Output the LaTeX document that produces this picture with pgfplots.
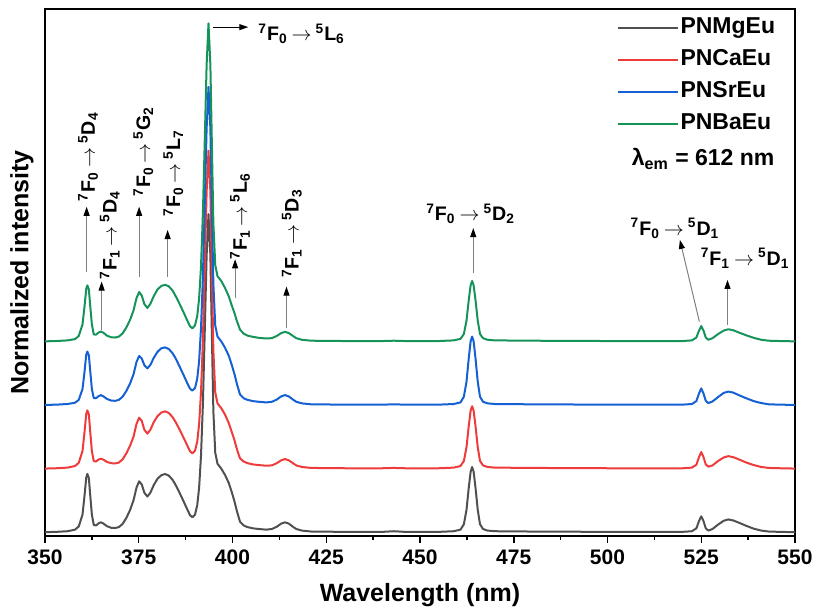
\documentclass[border=0pt]{standalone}
\usepackage{fontspec}
\setmainfont{Liberation Sans}
\usepackage{pgfplots}
\usepackage{pgfplotstable}
\pgfplotsset{compat=1.18}
\usetikzlibrary{arrows.meta}
\definecolor{cmg}{HTML}{505050}
\definecolor{cca}{HTML}{EE3B3B}
\definecolor{csr}{HTML}{1560D2}
\definecolor{cba}{HTML}{16935B}
\newcommand{\tr}[3]{\textsuperscript{7}F\textsubscript{#1}\kern2pt$\rightarrow$\kern2pt\textsuperscript{5}#2\textsubscript{#3}}

% normalized excitation spectra (lambda_em = 612 nm), no offset
\pgfplotstableread{
x     mg    ca    sr    ba
350   0     0     0     0
353   .001  .001  .001  .001
356   .003  .003  .003  .003
358   .008  .008  .007  .007
359   .018  .018  .016  .017
360   .055  .055  .05   .053
360.5 .11   .11   .1    .105
361   .172  .172  .158  .165
361.3 .183  .183  .168  .176
361.7 .17   .17   .156  .163
362   .125  .125  .115  .12
362.5 .055  .055  .05   .053
363   .023  .024  .022  .022
363.6 .021  .022  .021  .021
364.2 .027  .028  .027  .027
364.9 .031  .031  .031  .031
365.6 .027  .028  .027  .027
366.5 .019  .021  .019  .018
367.6 .014  .017  .014  .013
368.7 .013  .016  .013  .012
369.7 .016  .019  .016  .015
370.7 .026  .029  .026  .025
371.7 .045  .048  .044  .044
372.7 .07   .072  .068  .068
373.6 .1    .1    .096  .097
374.4 .14   .14   .135  .136
375.1 .16   .16   .154  .155
375.8 .15   .15   .146  .144
376.5 .124  .122  .125  .117
377.3 .112  .11   .115  .105
378.1 .124  .122  .126  .118
379   .148  .146  .148  .142
380   .168  .165  .167  .163
381   .179  .176  .178  .174
382   .183  .18   .181  .178
383   .178  .175  .176  .173
384   .165  .162  .163  .16
385   .145  .143  .143  .139
386   .121  .12   .118  .115
387   .096  .096  .093  .09
388   .07   .071  .067  .064
388.7 .053  .054  .051  .047
389.3 .047  .048  .045  .041
390   .055  .056  .053  .05
390.6 .085  .085  .083  .08
391.1 .14   .14   .138  .135
391.6 .24   .24   .24   .235
392.1 .4    .4    .4    .4
392.6 .63   .63   .63   .63
393.1 .87   .87   .87   .87
393.6 1     1     1     1
394.1 .87   .87   .87   .87
394.5 .62   .62   .62   .62
394.9 .38   .37   .38   .37
395.4 .25   .24   .25   .24
396   .215  .205  .215  .205
397   .2    .19   .2    .19
398   .18   .17   .18   .168
399   .155  .143  .155  .142
399.8 .126  .115  .126  .113
400.5 .098  .09   .098  .09
401.2 .065  .06   .065  .063
402   .033  .032  .033  .037
403   .021  .022  .021  .024
404   .016  .017  .016  .018
405.5 .012  .013  .012  .014
407   .01   .011  .01   .011
409   .008  .009  .008  .009
410.5 .01   .01   .01   .01
411.8 .017  .017  .017  .017
413   .027  .026  .027  .026
414   .031  .03   .031  .03
415   .027  .026  .027  .026
416   .018  .018  .018  .018
417   .01   .01   .01   .01
418.5 .005  .005  .005  .005
421   .002  .002  .002  .002
430   .001  .001  .001  .001
440   .001  .001  .001  .001
443   .003  .002  .002  .002
446   .001  .001  .001  .001
455   .001  .001  .001  .001
459   .003  .003  .003  .003
460.8 .008  .008  .008  .008
461.7 .025  .024  .026  .023
462.4 .07   .067  .073  .065
463   .14   .134  .147  .13
463.5 .19   .182  .2    .176
463.9 .205  .196  .215  .19
464.3 .19   .182  .2    .176
464.8 .14   .134  .147  .13
465.4 .07   .067  .073  .065
466   .025  .024  .026  .023
466.8 .01   .01   .01   .01
468   .005  .005  .005  .005
470   .003  .003  .003  .003
480   .002  .002  .002  .002
500   .001  .001  .001  .001
520   .001  .001  .001  .001
522.5 .003  .003  .003  .003
523.7 .012  .012  .012  .012
524.4 .035  .036  .036  .034
525   .05   .052  .052  .048
525.6 .035  .036  .036  .034
526.2 .012  .013  .013  .012
526.9 .005  .006  .006  .005
528   .01   .01   .011  .01
529.5 .024  .024  .025  .023
531   .036  .035  .038  .034
532.2 .04   .039  .042  .038
533.5 .037  .036  .039  .035
535   .03   .029  .031  .028
537   .02   .019  .021  .019
539   .011  .011  .012  .011
541   .005  .005  .006  .005
543   .002  .002  .002  .002
546   .001  .001  .001  .001
550   0     0     0     0
}\spectra

\tikzset{
  up/.style={draw=gray, line width=0.5pt, -{Triangle[length=4.5pt,width=3pt,color=black]}},
  lab/.style={font=\fontsize{9.8}{11}\selectfont\bfseries, inner sep=0pt},
}

\begin{document}
\begin{tikzpicture}
\begin{axis}[
  scale only axis,
  width=375pt, height=263.5pt,
  xmin=350, xmax=550, ymin=0, ymax=1.657,
  xtick={350,375,...,550}, minor x tick num=1,
  ytick=\empty,
  xtick pos=left, tick align=outside,
  major tick length=3.5pt, minor tick length=2pt,
  tick style={black, line width=0.75pt},
  axis line style={line width=0.75pt},
  /pgf/number format/assume math mode=true,
  ticklabel style={font=\fontsize{10.5}{12}\selectfont\bfseries},
  xlabel={Wavelength (nm)},
  ylabel={Normalized intensity},
  label style={font=\fontsize{12.5}{14}\selectfont\bfseries},
  xlabel style={at={(axis description cs:0.5,-0.112)}, anchor=center},
  ylabel style={at={(axis description cs:-0.0307,0.5)}, anchor=center},
  legend style={at={(rel axis cs:0.762,0.989)}, anchor=north west,
    draw=none, fill=none, inner sep=0pt, outer sep=0pt, row sep=3pt,
    nodes={inner sep=1pt, text height=8.5pt, text depth=2.5pt},
    font=\fontsize{11.5}{13}\selectfont\bfseries,
    /tikz/every even column/.append style={column sep=2pt}},
  legend cell align=left,
  legend image code/.code={\draw[#1, line width=1pt] (0pt,0pt) -- (30pt,0pt);},
  every axis plot/.append style={line width=1pt, line join=round},
]
\addplot[cmg] table[x=x, y expr=\thisrow{mg}+0.012] {\spectra};
\addplot[cca] table[x=x, y expr=\thisrow{ca}+0.212] {\spectra};
\addplot[csr] table[x=x, y expr=\thisrow{sr}+0.412] {\spectra};
\addplot[cba] table[x=x, y expr=\thisrow{ba}+0.612] {\spectra};
\legend{PNMgEu, PNCaEu, PNSrEu, PNBaEu}

\node[font=\fontsize{11.5}{13}\selectfont\bfseries, inner sep=0pt] at (axis cs:525.5,1.186) {λ\textsubscript{em} = 612 nm};

% annotations
\draw[up] (axis cs:361.1,0.83) -- (axis cs:361.1,1.035);
\node[lab, rotate=90, anchor=west] at (axis cs:361.5,1.052) {\tr{0}{D}{4}};
\draw[up] (axis cs:365.1,0.648) -- (axis cs:365.1,0.80);
\node[lab, rotate=90, anchor=west] at (axis cs:367.3,0.805) {\tr{1}{D}{4}};
\draw[up] (axis cs:375.1,0.815) -- (axis cs:375.1,1.035);
\node[lab, rotate=90, anchor=west] at (axis cs:376.2,1.067) {\tr{0}{G}{2}};
\draw[up] (axis cs:382.7,0.815) -- (axis cs:382.7,0.962);
\node[lab, rotate=90, anchor=west] at (axis cs:384.2,1.004) {\tr{0}{L}{7}};
\draw[up] (axis cs:400.7,0.748) -- (axis cs:400.7,0.87);
\node[lab, rotate=90, anchor=west] at (axis cs:402.0,0.868) {\tr{1}{L}{6}};
\draw[up] (axis cs:414.4,0.653) -- (axis cs:414.4,0.784);
\node[lab, rotate=90, anchor=west] at (axis cs:415.8,0.81) {\tr{1}{D}{3}};
\draw[line width=0.5pt, -{Triangle[length=4.5pt,width=3pt]}] (axis cs:394.9,1.6) -- (axis cs:404.2,1.6);
\node[lab, anchor=west] at (axis cs:406.8,1.578) {\tr{0}{L}{6}};
\draw[up] (axis cs:464.2,0.826) -- (axis cs:464.2,0.968);
\node[lab] at (axis cs:463.5,1.013) {\tr{0}{D}{2}};
\draw[up] (axis cs:524.5,0.674) -- (axis cs:519.3,0.931);
\node[lab] at (axis cs:518.0,0.967) {\tr{0}{D}{1}};
\draw[up] (axis cs:532.0,0.664) -- (axis cs:532.0,0.805);
\node[lab] at (axis cs:536.7,0.873) {\tr{1}{D}{1}};
\end{axis}
\pgfresetboundingbox
\path (-22.5pt,-36.5pt) rectangle (384pt,268pt);
\end{tikzpicture}
\end{document}
